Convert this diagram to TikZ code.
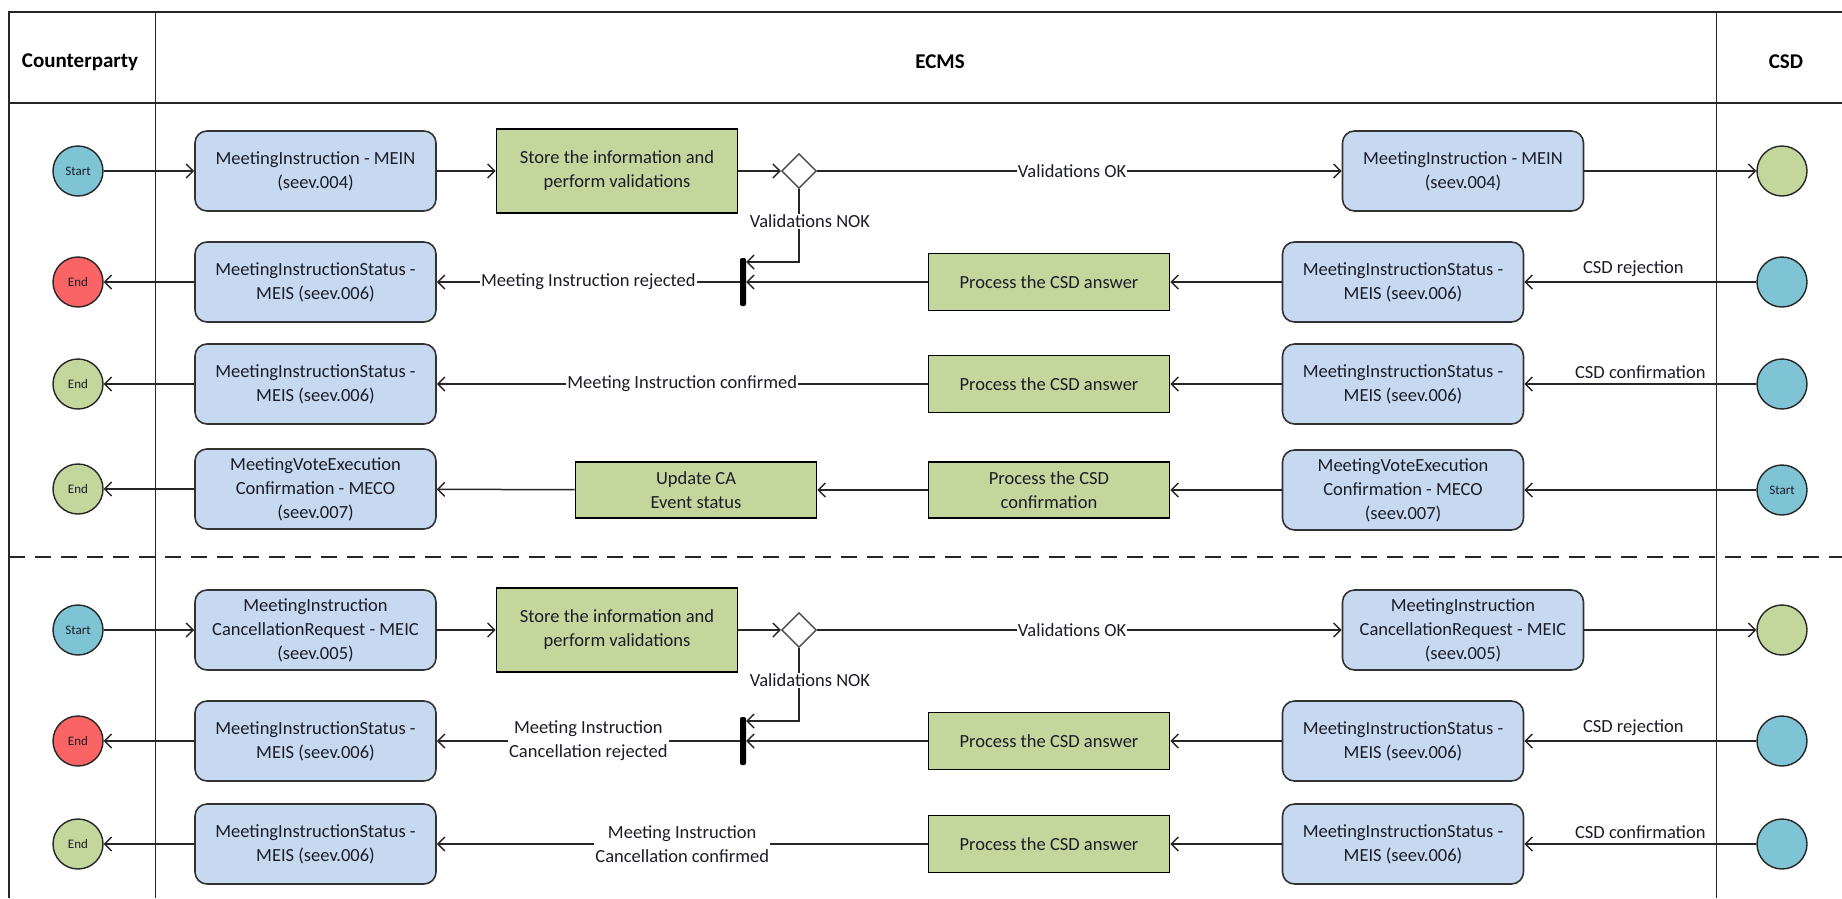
\documentclass[tikz,border=0pt]{standalone}
\usepackage{fontspec}
\setmainfont{Carlito}
\usetikzlibrary{arrows.meta,shapes.geometric}
\definecolor{bluefill}{RGB}{198,217,240}
\definecolor{greenfill}{RGB}{195,214,155}
\definecolor{tealfill}{RGB}{126,196,212}
\definecolor{redfill}{RGB}{250,100,100}
\definecolor{txt}{RGB}{28,28,40}
\begin{document}
\begin{tikzpicture}[x=1pt,y=-1pt,
  every node/.style={font=\fontsize{18.5}{24}\selectfont, text=txt},
  lane/.style={line width=1.6pt, draw=black!85},
  hdr/.style={font=\fontsize{21}{24}\selectfont\bfseries, text=black},
  bluebox/.style={rectangle, rounded corners=12pt, draw=black!80, line width=1.6pt, fill=bluefill, minimum width=241pt, minimum height=80pt, align=center, inner sep=2pt},
  greenbox/.style={rectangle, draw=black, line width=1.8pt, fill=greenfill, minimum width=241pt, align=center, inner sep=2pt},
  evt/.style={circle, draw=black!85, line width=1.4pt, minimum size=50pt, inner sep=0pt, font=\fontsize{13}{13}\selectfont},
  dia/.style={diamond, aspect=1, draw=black!70, line width=1.4pt, fill=white, minimum width=35pt, minimum height=35pt, inner sep=0pt},
  syncbar/.style={rectangle, fill=black, draw=none, minimum width=6pt, minimum height=48pt, inner sep=0pt, rounded corners=2pt},
  arr/.style={line width=1.5pt, draw=black!85, -{Straight Barb[length=7pt,width=14pt,line width=1.4pt]}},
  lbl/.style={fill=white, inner sep=1pt, align=center},
  toplbl/.style={inner sep=1pt, above=4pt}
]
\useasboundingbox (0,0) rectangle (1842,898);
\fill[white] (0,0) rectangle (1842,898);
% lanes
\draw[lane] (8.8,898) -- (8.8,11.7) -- (1842,11.7);
\draw[lane] (8.8,103) -- (1842,103);
\draw[lane] (155.5,11.7) -- (155.5,898);
\draw[lane] (1716.5,11.7) -- (1716.5,898);
\draw[lane, dash pattern=on 16pt off 10pt] (8.8,557) -- (1842,557);
\node[hdr] (hCP) at (80,62) {Counterparty};
\node[hdr] (hECMS) at (940,62) {ECMS};
\node[hdr] (hCSD) at (1786,62) {CSD};

% ---------- Row 1
\node[evt, fill=tealfill] (s1) at (78,171) {Start};
\node[bluebox] (b1L) at (315.5,171) {MeetingInstruction - MEIN\\(seev.004)};
\node[greenbox, minimum height=84pt] (g1) at (617,171) {Store the information and\\perform validations};
\node[dia] (d1) at (799,171) {};
\node[bluebox] (b1R) at (1463,171) {MeetingInstruction - MEIN\\(seev.004)};
\node[evt, fill=greenfill] (e1R) at (1782,171) {};
% ---------- Row 2
\node[evt, fill=redfill] (e2) at (78,282) {End};
\node[bluebox] (b2L) at (315.5,282) {MeetingInstructionStatus -\\MEIS (seev.006)};
\node[syncbar] (bar2) at (743,282) {};
\node[greenbox, minimum height=57pt] (g2) at (1049,282) {Process the CSD answer};
\node[bluebox] (b2R) at (1403,282) {MeetingInstructionStatus -\\MEIS (seev.006)};
\node[evt, fill=tealfill] (s2R) at (1782,282) {};
% ---------- Row 3
\node[evt, fill=greenfill] (e3) at (78,384) {End};
\node[bluebox] (b3L) at (315.5,384) {MeetingInstructionStatus -\\MEIS (seev.006)};
\node[greenbox, minimum height=57pt] (g3) at (1049,384) {Process the CSD answer};
\node[bluebox] (b3R) at (1403,384) {MeetingInstructionStatus -\\MEIS (seev.006)};
\node[evt, fill=tealfill] (s3R) at (1782,384) {};
% ---------- Row 4
\node[evt, fill=greenfill] (e4) at (78,489) {End};
\node[bluebox] (b4L) at (315.5,489) {MeetingVoteExecution\\Confirmation - MECO\\(seev.007)};
\node[greenbox, minimum height=56pt] (u4) at (696,490) {Update CA\\Event status};
\node[greenbox, minimum height=56pt] (g4) at (1049,490) {Process the CSD\\confirmation};
\node[bluebox] (b4R) at (1403,490) {MeetingVoteExecution\\Confirmation - MECO\\(seev.007)};
\node[evt, fill=tealfill] (s4R) at (1782,490) {Start};
% ---------- Row 5
\node[evt, fill=tealfill] (s5) at (78,630) {Start};
\node[bluebox] (b5L) at (315.5,630) {MeetingInstruction\\CancellationRequest - MEIC\\(seev.005)};
\node[greenbox, minimum height=84pt] (g5) at (617,630) {Store the information and\\perform validations};
\node[dia] (d5) at (799,630) {};
\node[bluebox] (b5R) at (1463,630) {MeetingInstruction\\CancellationRequest - MEIC\\(seev.005)};
\node[evt, fill=greenfill] (e5R) at (1782,630) {};
% ---------- Row 6
\node[evt, fill=redfill] (e6) at (78,741) {End};
\node[bluebox] (b6L) at (315.5,741) {MeetingInstructionStatus -\\MEIS (seev.006)};
\node[syncbar] (bar6) at (743,741) {};
\node[greenbox, minimum height=57pt] (g6) at (1049,741) {Process the CSD answer};
\node[bluebox] (b6R) at (1403,741) {MeetingInstructionStatus -\\MEIS (seev.006)};
\node[evt, fill=tealfill] (s6R) at (1782,741) {};
% ---------- Row 7
\node[evt, fill=greenfill] (e7) at (78,844) {End};
\node[bluebox] (b7L) at (315.5,844) {MeetingInstructionStatus -\\MEIS (seev.006)};
\node[greenbox, minimum height=57pt] (g7) at (1049,844) {Process the CSD answer};
\node[bluebox] (b7R) at (1403,844) {MeetingInstructionStatus -\\MEIS (seev.006)};
\node[evt, fill=tealfill] (s7R) at (1782,844) {};

% ---------- connectors row 1
\draw[arr] (s1) -- (b1L);
\draw[arr] (b1L) -- (g1);
\draw[arr] (g1) -- (d1);
\draw[arr] (d1) -- node[lbl, pos=0.486] {Validations OK} (b1R);
\draw[arr] (b1R) -- (e1R);
\draw[arr] (d1.south) |- node[lbl, pos=0.22, xshift=11pt] {Validations NOK} ([yshift=20pt]bar2.east);
% row 2
\draw[arr] (s2R) -- node[toplbl, pos=0.53] {CSD rejection} (b2R);
\draw[arr] (b2R) -- (g2);
\draw[arr] (g2) -- (bar2);
\draw[arr] (bar2) -- node[lbl] {Meeting Instruction rejected} (b2L);
\draw[arr] (b2L) -- (e2);
% row 3
\draw[arr] (s3R) -- node[toplbl, pos=0.5] {CSD confirmation} (b3R);
\draw[arr] (b3R) -- (g3);
\draw[arr] (g3) -- node[lbl] {Meeting Instruction confirmed} (b3L);
\draw[arr] (b3L) -- (e3);
% row 4
\draw[arr] (s4R) -- (b4R);
\draw[arr] (b4R) -- (g4);
\draw[arr] (g4) -- (u4);
\draw[arr] (u4) -- (b4L);
\draw[arr] (b4L) -- (e4);
% row 5
\draw[arr] (s5) -- (b5L);
\draw[arr] (b5L) -- (g5);
\draw[arr] (g5) -- (d5);
\draw[arr] (d5) -- node[lbl, pos=0.486] {Validations OK} (b5R);
\draw[arr] (b5R) -- (e5R);
\draw[arr] (d5.south) |- node[lbl, pos=0.22, xshift=11pt] {Validations NOK} ([yshift=20pt]bar6.east);
% row 6
\draw[arr] (s6R) -- node[toplbl, pos=0.53] {CSD rejection} (b6R);
\draw[arr] (b6R) -- (g6);
\draw[arr] (g6) -- (bar6);
\draw[arr] (bar6) -- node[lbl] {Meeting Instruction\\Cancellation rejected} (b6L);
\draw[arr] (b6L) -- (e6);
% row 7
\draw[arr] (s7R) -- node[toplbl, pos=0.5] {CSD confirmation} (b7R);
\draw[arr] (b7R) -- (g7);
\draw[arr] (g7) -- node[lbl] {Meeting Instruction\\Cancellation confirmed} (b7L);
\draw[arr] (b7L) -- (e7);
\end{tikzpicture}
\end{document}
